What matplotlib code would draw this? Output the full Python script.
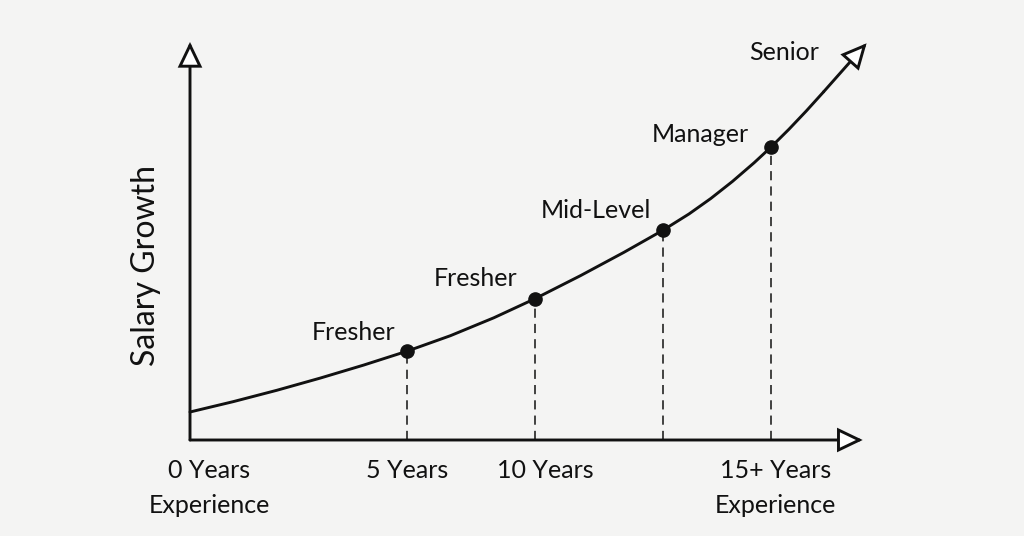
import matplotlib
matplotlib.use('Agg')
import matplotlib.pyplot as plt
from matplotlib.patches import FancyArrowPatch

plt.rcParams['font.family'] = ['Lato', 'DejaVu Sans']

# ── Data ────────────────────────────────────────────────────────────────────
# x in "experience units", y in "salary growth units"
curve_x = [0.0, 1.0, 2.0, 3.0, 4.0, 5.0, 6.0, 7.0, 7.95, 9.0, 10.0, 10.9,
           11.5, 12.0, 12.5, 13.0, 13.39, 13.8, 14.2, 14.6]
curve_y = [2.80, 3.84, 4.97, 6.19, 7.49, 8.88, 10.43, 12.22, 14.13, 16.44, 18.77, 20.98,
           22.61, 24.15, 25.86, 27.73, 29.30, 31.07, 32.90, 34.82]
curve_tip = (15.59, 39.67)

stage_x = [5.0, 7.95, 10.9, 13.39]
stage_y = [8.88, 14.13, 20.98, 29.30]
stage_labels = ['Fresher', 'Fresher', 'Mid-Level', 'Manager', 'Senior']
label_pos = [(3.76, 10.8), (6.59, 16.2), (9.35, 22.9), (11.77, 30.6), (13.70, 38.7)]

tick_x = [0.44, 5.0, 8.18, 13.5]
tick_labels = ['0 Years\nExperience', '5 Years', '10 Years', '15+ Years\nExperience']

x_end, y_end = 15.5, 39.8

# ── Figure ──────────────────────────────────────────────────────────────────
fig = plt.figure(figsize=(10.24, 5.36), dpi=100)
fig.patch.set_facecolor('#f4f4f3')
ax = fig.add_axes([0, 0, 1, 1])
ax.set_xlim(-4.378, 19.217)
ax.set_ylim(-9.6, 44.0)
ax.axis('off')

ink = '#111111'

def arrow(p0, p1):
    a = FancyArrowPatch(p0, p1, arrowstyle='-|>,head_length=0.75,head_width=0.36',
                        mutation_scale=20, lw=2.1, ec=ink, fc='white',
                        shrinkA=0, shrinkB=0, joinstyle='miter', zorder=3)
    ax.add_patch(a)

# axes with open arrow heads
arrow((0, 0), (x_end, 0))
arrow((0, 0), (0, y_end))

# growth curve
ax.plot(curve_x, curve_y, color=ink, lw=2.1, solid_capstyle='round',
        solid_joinstyle='round', zorder=3)
arrow((curve_x[-1], curve_y[-1]), curve_tip)

# stage markers with dashed drop lines
for sx, sy in zip(stage_x, stage_y):
    ax.plot([sx, sx], [0, sy], color=ink, lw=1.1, ls=(0, (6, 4)), zorder=2)
ax.plot(stage_x, stage_y, 'o', color=ink, ms=9.5, zorder=4)

for lab, (lx, ly) in zip(stage_labels, label_pos):
    ax.text(lx, ly, lab, fontsize=18, ha='center', va='center', color=ink)

for tx, tl in zip(tick_x, tick_labels):
    ax.text(tx, -1.9, tl, fontsize=18, ha='center', va='top', color=ink,
            linespacing=1.65)

ax.text(-1.01, 17.4, 'Salary Growth', fontsize=23, rotation=90,
        ha='center', va='center', color=ink)

fig.savefig('out.png', dpi=100, facecolor=fig.get_facecolor())
